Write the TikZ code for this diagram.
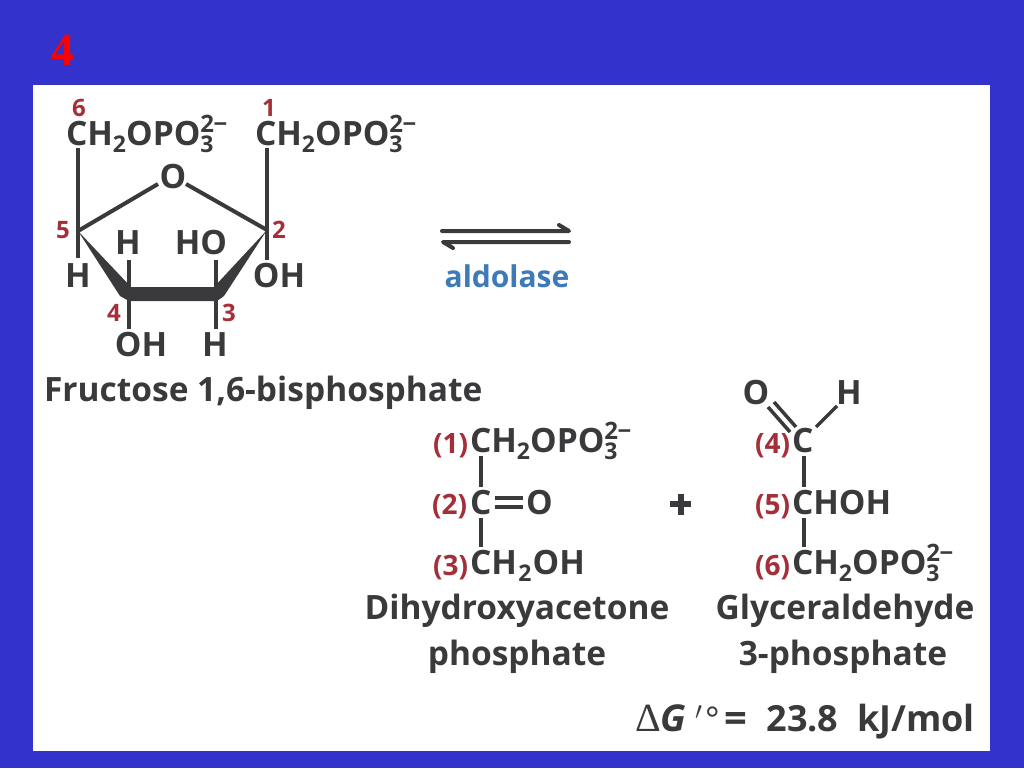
\documentclass[tikz,border=0pt]{standalone}
\usepackage{fontspec}
\setmainfont{Open Sans}
\newfontfamily\redfont{Liberation Serif}
\definecolor{bgblue}{HTML}{3333CC}
\definecolor{ink}{HTML}{3A3A3C}
\definecolor{numred}{HTML}{A52F38}
\definecolor{enzblue}{HTML}{3C7AB8}
\newcommand{\sub}[1]{\raisebox{-7pt}{\fontsize{23}{23}\selectfont #1}}
\newcommand{\phosph}{\rlap{\raisebox{13pt}{\fontsize{24}{24}\selectfont 2\kern-0.5pt−}}\raisebox{-7pt}{\fontsize{23}{23}\selectfont 3}}
\tikzset{
  chem/.style={inner sep=0pt,outer sep=0pt,text=ink,font=\fontsize{33.5}{38}\selectfont\bfseries,anchor=base west},
  num/.style={inner sep=0pt,outer sep=0pt,text=numred,font=\fontsize{24}{28}\selectfont\bfseries,anchor=base west},
  paren/.style={inner sep=0pt,outer sep=0pt,text=numred,font=\fontsize{28}{30}\selectfont\bfseries,anchor=base east},
  lbl/.style={inner sep=0pt,outer sep=0pt,text=ink,font=\fontsize{33.5}{38}\selectfont\bfseries,anchor=base},
  bond/.style={draw=ink,line width=4pt,line join=round},
  thinbond/.style={draw=ink,line width=3.5pt},
  wedge/.style={fill=ink,draw=none},
}
\begin{document}
\begin{tikzpicture}[x=1pt,y=-1pt]
\useasboundingbox (0,0) rectangle (1024,768);
\fill[bgblue] (0,0) rectangle (1024,768);
\fill[white] (33,85) rectangle (990,751);
\node[inner sep=0pt,anchor=base west,text=red,font=\redfont\fontsize{46}{46}\selectfont\bfseries] (slide) at (51,66) {4};
% ring atoms
\coordinate (c5) at (78,231);
\coordinate (c2) at (267,230);
\coordinate (c4) at (129,295);
\coordinate (c3) at (216,295);
% labels, fructose
\node[chem] (ch6) at (66,145) {CH\sub{2}OPO\phosph};
\node[chem] (ch1) at (255,145) {CH\sub{2}OPO\phosph};
\node[lbl] (O) at (173,188) {O};
\node[lbl] (h4) at (128,254) {H};
\node[lbl] (ho3) at (201,254) {HO};
\node[lbl] (h5) at (78,287) {H};
\node[lbl] (oh2) at (279,287) {OH};
\node[lbl] (oh4) at (141,356) {OH};
\node[lbl] (h3) at (215,356) {H};
\node[num] (n6) at (72,116) {6};
\node[num] (n1) at (262,116) {1};
\node[num] (n5) at (56,238) {5};
\node[num] (n2) at (272,238) {2};
\node[num] (n4) at (107,321) {4};
\node[num] (n3) at (222,321) {3};
\node[lbl,anchor=base west] (fbp) at (44,401) {Fructose 1,6-bisphosphate};
% bonds, fructose
\draw[bond] (78,148) coordinate (t6) -- (c5) -- (78,258) coordinate (b5);
\draw[bond] (267,148) coordinate (t1) -- (c2) -- (267,260) coordinate (b2);
\draw[bond] (c5) -- (158,184) coordinate (ol);
\draw[bond] (186,184) coordinate (or) -- (c2);
\draw[bond] (129,260) coordinate (u4) -- (c4) -- (129,329) coordinate (d4);
\draw[bond] (216,260) coordinate (u3) -- (c3) -- (216,329) coordinate (d3);
\fill[wedge] (c5) -- (131,287) -- (214,287) -- (c2) -- (224,296) -- (217,301) -- (129,301) -- (120,296) -- cycle;
% arrows
\coordinate (a1) at (442,231); \coordinate (a2) at (569,231);
\coordinate (a3) at (569,242); \coordinate (a4) at (443,242);
\draw[bond,line cap=round] (a1) -- (a2) -- (559,225) coordinate (a5);
\draw[bond,line cap=round] (a3) -- (a4) -- (453,248) coordinate (a6);
\node[inner sep=0pt,anchor=base,text=enzblue,font=\fontsize{30}{34}\selectfont\bfseries] (ald) at (507,287) {aldolase};
% DHAP
\node[paren] (p1) at (468,453) {(1)};
\node[paren] (p2) at (467,514) {(2)};
\node[paren] (p3) at (468,575) {(3)};
\node[chem] (d1) at (470,452) {CH\sub{2}OPO\phosph};
\node[chem] (d2) at (470,514) {C};
\node[chem] (d2o) at (526,514) {O};
\node[chem] (d3) at (470,574) {CH\kern1.5pt\sub{2}\kern1pt OH};
\draw[thinbond] (481,456) coordinate (e1) -- (481,487) coordinate (e2);
\draw[thinbond] (481,518) coordinate (e3) -- (481,547) coordinate (e4);
\draw[thinbond] (495,498) coordinate (e5) -- (523,498) coordinate (e6);
\draw[thinbond] (495,507) coordinate (e7) -- (523,507) coordinate (e8);
\node[lbl] (dh) at (517,619) {Dihydroxyacetone};
\node[lbl] (dh2) at (517,665) {phosphate};
% plus
\draw[draw=ink,line width=6pt] (670,504) coordinate (pl) -- (691,504) coordinate (pr);
\draw[draw=ink,line width=6pt] (680.5,494) coordinate (pt) -- (680.5,515) coordinate (pb);
% GAP
\node[lbl] (go) at (756,404) {O};
\node[lbl] (gh) at (849,404) {H};
\node[paren] (p4) at (790,453) {(4)};
\node[paren] (p5) at (790,514) {(5)};
\node[paren] (p6) at (790,575) {(6)};
\node[chem] (g1) at (792,452) {C};
\node[chem] (g2) at (792,514) {CHOH};
\node[chem] (g3) at (792,574) {CH\sub{2}OPO\phosph};
\draw[thinbond] (804,456) coordinate (f1) -- (804,487) coordinate (f2);
\draw[thinbond] (804,518) coordinate (f3) -- (804,547) coordinate (f4);
\draw[thinbond] (768,407) coordinate (f5) -- (790,432) coordinate (f6);
\draw[thinbond] (774,402) coordinate (f7) -- (796,427) coordinate (f8);
\draw[thinbond] (816,427) coordinate (f9) -- (837,406) coordinate (f10);
\node[lbl] (gl) at (845,619) {Glyceraldehyde};
\node[lbl] (gl2) at (843,665) {3-phosphate};
% energy
\node[inner sep=0pt,anchor=base west,text=ink,font=\redfont\fontsize{40}{44}\selectfont] (dgd) at (635,731) {Δ};
\node[inner sep=0pt,anchor=base west,text=ink,font=\fontsize{37}{40}\selectfont\bfseries\itshape] (dgg) at (660,731) {G};
\node[inner sep=0pt,anchor=base west,text=ink,font=\fontsize{38}{40}\selectfont] (dgp) at (695,729) {$'$};
\node[inner sep=0pt,anchor=base west,text=ink,font=\fontsize{34}{40}\selectfont] (dgq) at (705,731) {°};
\node[inner sep=0pt,anchor=base west,text=ink,font=\fontsize{40}{44}\selectfont\bfseries] (dgv) at (724,732) {=};
\node[inner sep=0pt,anchor=base east,text=ink,font=\fontsize{36}{40}\selectfont\bfseries] (dgn) at (975,731) {23.8\ \ kJ/mol};
\end{tikzpicture}
\end{document}
